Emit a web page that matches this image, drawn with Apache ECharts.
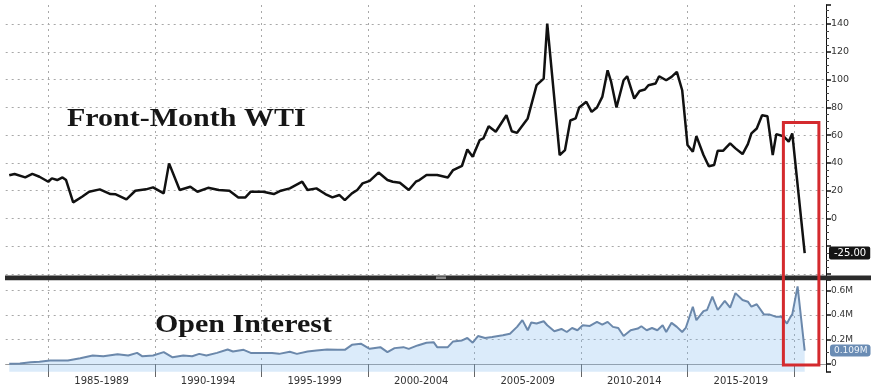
<!DOCTYPE html>
<html><head><meta charset="utf-8">
<script src="https://cdn.jsdelivr.net/npm/echarts@6/dist/echarts.min.js"></script>
<style>html,body{margin:0;padding:0;background:#fff}#c{width:871px;height:387px}</style>
</head><body><div id="c"></div>
<script>
// ---------- data ----------
const wtiDates = ['1983-03','1983-06','1983-12','1984-04','1984-08','1985-01','1985-03','1985-06','1985-09','1985-11',
'1986-03','1986-08','1986-12','1987-06','1987-12','1988-03','1988-09','1989-02','1989-08','1989-12',
'1990-06','1990-09','1991-03','1991-09','1992-01','1992-07','1993-01','1993-07','1993-12','1994-04',
'1994-07','1995-02','1995-08','1995-12','1996-05','1996-12','1997-03','1997-08','1998-01','1998-05',
'1998-09','1998-12','1999-04','1999-07','1999-10','2000-02','2000-07','2000-12','2001-03','2001-07',
'2001-12','2002-04','2002-06','2002-10','2003-04','2003-10','2004-01','2004-06','2004-09','2004-12',
'2005-04','2005-06','2005-09','2006-01','2006-07','2006-10','2007-01','2007-07','2007-12','2008-04',
'2008-06','2009-01','2009-04','2009-07','2009-10','2009-12','2010-04','2010-07','2010-10','2011-01',
'2011-04','2011-06','2011-09','2012-01','2012-03','2012-07','2012-10','2013-01','2013-03','2013-07',
'2013-09','2014-01','2014-04','2014-07','2014-10','2014-12','2015-01','2015-04','2015-06','2015-10',
'2016-01','2016-04','2016-06','2016-09','2017-01','2017-04','2017-08','2017-11','2018-01','2018-04',
'2018-07','2018-10','2019-01','2019-03','2019-07','2019-10','2019-12','2020-07'];
const wtiValues = [31,32,29.5,32,30,26.4,28.8,27.6,29.5,27.6,
11.5,15.6,19.2,20.9,17.5,17.3,13.7,19.9,20.9,22.3,
18,39.6,20.4,22.8,19.2,22,20.4,19.9,15.1,15.1,
19.2,19.2,17.5,19.9,21.6,26.4,20.4,21.6,17.5,15.1,
16.8,13.2,18,20.4,25.2,27,33,27.6,26.4,25.7,
20.4,26.4,27.6,31.2,31.2,29.5,34.8,37.9,49.6,44.4,
56.4,57.6,66.4,62.4,74.3,62.8,61.6,72,96,100.7,
140.3,45.6,49.2,70.5,72,79.9,84,76.7,79.9,87.5,
106.7,98.3,79.9,99.5,102.4,86.3,91.8,92.8,95.9,97.1,
102.4,99.5,101.9,105.5,92.3,66,52.8,48,59.2,45.6,
37.6,38.4,48.7,48.7,54,50.4,46.3,53.5,61.2,64.7,
74.3,73.6,45.6,60.7,59.2,55.2,61.2,-25];

const oiDates = ['1983-03','1983-09','1984-03','1984-08','1985-02','1985-12','1986-07','1987-02','1987-08','1988-04',
'1988-10','1989-03','1989-06','1989-12','1990-06','1990-11','1991-05','1991-10','1992-02','1992-06',
'1992-12','1993-06','1993-09','1994-03','1994-07','1994-12','1995-07','1995-11','1996-05','1996-09',
'1997-03','1997-08','1998-02','1998-08','1998-12','1999-04','1999-09','2000-02','2000-08','2000-12',
'2001-04','2001-09','2001-12','2002-05','2002-10','2003-02','2003-04','2003-10','2004-01','2004-06',
'2004-09','2004-12','2005-03','2005-07','2005-11','2006-05','2006-09','2007-01','2007-04','2007-07',
'2007-09','2007-12','2008-04','2008-06','2008-10','2009-02','2009-05','2009-08','2009-11','2010-02',
'2010-06','2010-10','2011-01','2011-04','2011-07','2011-10','2012-01','2012-05','2012-09','2012-11',
'2013-02','2013-05','2013-08','2013-11','2014-01','2014-04','2014-07','2014-10','2014-12','2015-04',
'2015-06','2015-10','2015-12','2016-03','2016-06','2016-10','2017-01','2017-04','2017-08','2017-11',
'2018-01','2018-04','2018-08','2018-11','2019-03','2019-06','2019-09','2019-11','2019-12','2020-03','2020-07'];
const oiValues = [0.003,0.005,0.014,0.019,0.028,0.028,0.047,0.069,0.063,0.080,
0.069,0.091,0.063,0.069,0.097,0.055,0.069,0.063,0.083,0.069,
0.091,0.119,0.102,0.116,0.091,0.091,0.091,0.083,0.100,0.083,
0.102,0.110,0.119,0.116,0.116,0.157,0.166,0.124,0.138,0.097,
0.130,0.138,0.124,0.152,0.174,0.179,0.138,0.138,0.185,0.193,
0.213,0.174,0.229,0.213,0.221,0.235,0.248,0.304,0.359,0.276,
0.340,0.331,0.350,0.317,0.268,0.287,0.262,0.295,0.276,0.317,
0.312,0.345,0.323,0.345,0.304,0.295,0.229,0.276,0.290,0.309,
0.276,0.295,0.276,0.317,0.262,0.337,0.304,0.262,0.295,0.469,
0.359,0.433,0.442,0.552,0.442,0.516,0.461,0.580,0.524,0.510,
0.469,0.489,0.406,0.406,0.386,0.386,0.331,0.386,0.406,0.635,0.109];

const periodLabels = ['1985-1989','1990-1994','1995-1999','2000-2004','2005-2009','2010-2014','2015-2019'];
const lastWti = -25.00;
const lastOi = 0.109;
const wtiTitle = 'Front-Month WTI';
const oiTitle = 'Open Interest';
// highlighted window (annotation box) in data units
const boxFrom = '2019-07', boxTo = '2021-03', boxTopWti = 69, boxBottomOi = -0.008;

// ---------- axis categories (monthly) ----------
const months = [];
for (let y = 1983; y <= 2021; y++) {
  for (let m = 1; m <= 12; m++) {
    if (y === 2021 && m > 7) break;
    months.push(y + '-' + String(m).padStart(2, '0'));
  }
}
const labelAt = {};
periodLabels.forEach(l => { const s = parseInt(l, 10); labelAt[(s + 2) + '-07'] = l; });
const isBoundary = (i, v) => v.endsWith('-01') && parseInt(v, 10) % 5 === 0;

const chart = echarts.init(document.getElementById('c'), null, {renderer: 'canvas'});
const dotted = {color: '#a8a8a8', width: 1, type: [2, 4]};
const grids = [
  {left: 5.7, right: 45, top: 5, bottom: 109.5},
  {left: 5.7, right: 45, top: 280, bottom: 15.3}
];
const option = {
  animation: false,
  backgroundColor: '#ffffff',
  grid: grids,
  xAxis: [
    {type: 'category', gridIndex: 0, data: months, boundaryGap: false,
     axisLine: {show: false}, axisTick: {show: false}, axisLabel: {show: false},
     splitLine: {show: true, interval: isBoundary, lineStyle: dotted}},
    {type: 'category', gridIndex: 1, data: months, boundaryGap: false,
     axisLine: {show: true, lineStyle: {color: '#9a9a9a', width: 1}},
     axisTick: {show: true, interval: isBoundary, length: 13, lineStyle: {color: '#666'}},
     axisLabel: {show: true, interval: (i, v) => labelAt[v] !== undefined,
       formatter: v => labelAt[v] || '', color: '#333', fontSize: 10, fontFamily: 'DejaVu Sans', margin: 5},
     splitLine: {show: true, interval: isBoundary, lineStyle: dotted}}
  ],
  yAxis: [
    {type: 'value', gridIndex: 0, position: 'right', min: -42.6, max: 153.7, splitNumber: 10,
     axisLine: {show: true, lineStyle: {color: '#111', width: 1}},
     axisTick: {show: true, inside: false, length: 5, lineStyle: {color: '#111', width: 1.5}},
     minorTick: {show: true, splitNumber: 4, length: 3, lineStyle: {color: '#444'}},
     axisLabel: {color: '#333', fontSize: 9.5, fontFamily: 'DejaVu Sans', margin: 5,
       formatter: v => (v >= 0 && Math.abs(v % 20) < 1e-6) ? String(Math.round(v)) : ''},
     splitLine: {show: true, showMinLine: false, showMaxLine: false, lineStyle: dotted}},
    {type: 'value', gridIndex: 1, position: 'right', min: -0.063, max: 0.6876, splitNumber: 4,
     axisLine: {show: true, lineStyle: {color: '#111', width: 1}},
     axisTick: {show: true, inside: false, length: 5, lineStyle: {color: '#111', width: 1.5}},
     minorTick: {show: true, splitNumber: 2, length: 3, lineStyle: {color: '#444'}},
     axisLabel: {color: '#333', fontSize: 9, fontFamily: 'DejaVu Sans', margin: 5,
       formatter: v => {
         if (Math.abs(v) < 1e-9) return '0';
         const r = Math.round(v * 10) / 10;
         if (v < 0 || Math.abs(v - r) > 1e-6) return '';
         return r + 'M';
       }},
     splitLine: {show: true, showMinLine: false, showMaxLine: false, lineStyle: dotted}}
  ],
  series: [
    {type: 'line', name: wtiTitle, xAxisIndex: 0, yAxisIndex: 0, symbol: 'none',
     data: wtiDates.map((d, i) => [d, wtiValues[i]]),
     lineStyle: {color: '#111', width: 2.5}, z: 3,
     markLine: {silent: true, symbol: 'none', lineStyle: {color: 'transparent', width: 0},
       label: {show: true, position: 'end', formatter: lastWti.toFixed(2), color: '#fff',
         backgroundColor: '#151515', padding: [2, 4, 1, 5], borderRadius: 2, fontSize: 10,
         fontFamily: 'DejaVu Sans', distance: 3},
       data: [{yAxis: lastWti}]}},
    {type: 'line', name: oiTitle, xAxisIndex: 1, yAxisIndex: 1, symbol: 'none',
     data: oiDates.map((d, i) => [d, oiValues[i]]),
     lineStyle: {color: '#6b88ab', width: 2},
     areaStyle: {color: 'rgba(120,180,235,0.38)', origin: 'start'},
     markLine: {silent: true, symbol: 'none', lineStyle: {color: 'transparent', width: 0},
       label: {show: true, position: 'end', formatter: lastOi + 'M', color: '#eef4fa',
         backgroundColor: '#6a8cb4', padding: [2, 3, 1, 4], borderRadius: 3, fontSize: 9,
         fontFamily: 'DejaVu Sans', distance: 4},
       data: [{yAxis: lastOi}]}}
  ]
};
chart.setOption(option);

const p1 = chart.convertToPixel({gridIndex: 0}, [boxFrom, boxTopWti]);
const p2 = chart.convertToPixel({gridIndex: 1}, [boxTo, boxBottomOi]);
chart.setOption({
  graphic: [
    {type: 'rect', z: 50, shape: {x: 5, y: 275.5, width: 866, height: 4.8}, style: {fill: '#2b2b2b'}},
    {type: 'rect', z: 51, shape: {x: 436, y: 276.5, width: 10, height: 2.5}, style: {fill: '#8a8a8a'}},
    {type: 'text', z: 60, x: 67, y: 120, scaleX: 1.2,
     style: {text: wtiTitle, font: 'bold 25px "Liberation Serif"', fill: '#161616', verticalAlign: 'middle'}},
    {type: 'text', z: 60, x: 155, y: 326, scaleX: 1.2,
     style: {text: oiTitle, font: 'bold 25px "Liberation Serif"', fill: '#161616', verticalAlign: 'middle'}},
    {type: 'rect', z: 70, shape: {x: p1[0], y: p1[1], width: p2[0] - p1[0], height: p2[1] - p1[1]},
     style: {fill: 'none', stroke: '#d42a2e', lineWidth: 3}}
  ]
});
</script>
</body></html>
